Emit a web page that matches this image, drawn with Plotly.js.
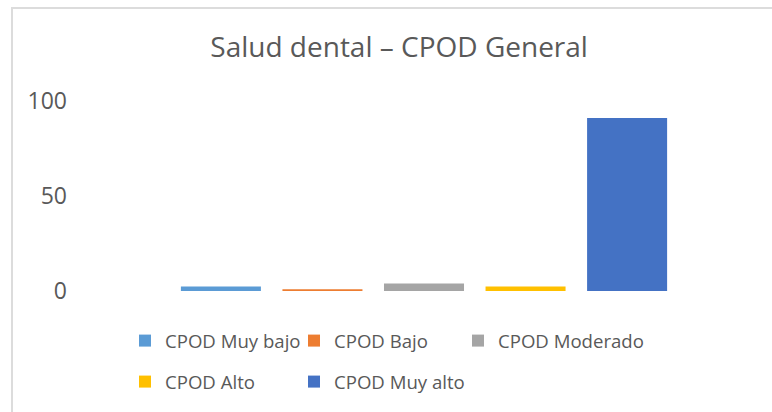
<!DOCTYPE html>
<html>
<head>
<meta charset="utf-8">
<script src="https://cdn.plot.ly/plotly-3.0.1.min.js"></script>
<style>
  html, body { margin: 0; padding: 0; background: #fff; }
  #wrap { position: relative; width: 772px; height: 412px; overflow: hidden; }
  #chart { position: absolute; left: 0; top: 0; width: 772px; height: 412px; }
  #frame { position: absolute; left: 11px; top: 7px; width: 780px; height: 420px;
           border-left: 2px solid #dcdcdc; border-top: 2px solid #dcdcdc; pointer-events: none; }
</style>
</head>
<body>
<div id="wrap">
  <div id="chart"></div>
  <div id="frame"></div>
</div>
<script>
const category = ["CPOD General"];
const seriesNames = ["CPOD Muy bajo", "CPOD Bajo", "CPOD Moderado", "CPOD Alto", "CPOD Muy alto"];
const seriesValues = [2.4, 0.9, 4.0, 2.4, 91.0];
const seriesColors = ["#5B9BD5", "#ED7D31", "#A5A5A5", "#FFC000", "#4472C4"];
const yTickValues = [0, 50, 100];
const yTickLabels = ["0", "50", "100"];

const textColor = "#595959";
const fontFamily = "'Open Sans', 'Liberation Sans', sans-serif";

// legend layout: text start (px) and row centre (px) for each series entry
const legendTextX = [165, 334, 498, 165, 334];
const legendRowY = [341, 341, 341, 382, 382];

const legendIds = ["legend", "legend2", "legend3", "legend4", "legend5"];

const traces = seriesNames.map((name, i) => ({
  type: "bar",
  name: name,
  x: category,
  y: [seriesValues[i]],
  marker: { color: seriesColors[i] },
  legend: legendIds[i],
  hoverinfo: "name+y"
}));

const marginL = 80, marginR = 4, marginT = 101, marginB = 121;
const plotW = 772 - marginL - marginR;
const plotH = 412 - marginT - marginB;

const layout = {
  width: 772,
  height: 412,
  paper_bgcolor: "#ffffff",
  plot_bgcolor: "#ffffff",
  margin: { l: marginL, r: marginR, t: marginT, b: marginB },
  barmode: "group",
  bargap: 0.262,
  bargroupgap: 0.212,
  title: {
    text: "Salud dental – CPOD General",
    font: { family: fontFamily, size: 28, color: textColor },
    x: 0.517, xref: "container", xanchor: "center",
    y: 1 - 47 / 412, yref: "container", yanchor: "middle"
  },
  xaxis: {
    type: "category",
    showticklabels: false,
    showgrid: false,
    zeroline: false,
    showline: false,
    ticks: ""
  },
  yaxis: {
    range: [0, 100],
    tickvals: yTickValues,
    ticktext: yTickLabels,
    showgrid: false,
    zeroline: false,
    showline: false,
    ticks: "",
    ticklabelstandoff: 12,
    tickfont: { family: fontFamily, size: 23, color: textColor }
  },
  showlegend: true
};

legendIds.forEach((id, i) => {
  layout[id] = {
    orientation: "h",
    xanchor: "left",
    yanchor: "middle",
    x: (legendTextX[i] - 40 - marginL) / plotW,
    y: (412 - marginB - legendRowY[i]) / plotH,
    font: { family: fontFamily, size: 18.6, color: textColor },
    bgcolor: "rgba(0,0,0,0)",
    itemclick: false,
    itemdoubleclick: false
  };
});

Plotly.newPlot("chart", traces, layout, { displayModeBar: false, staticPlot: true });
</script>
</body>
</html>
